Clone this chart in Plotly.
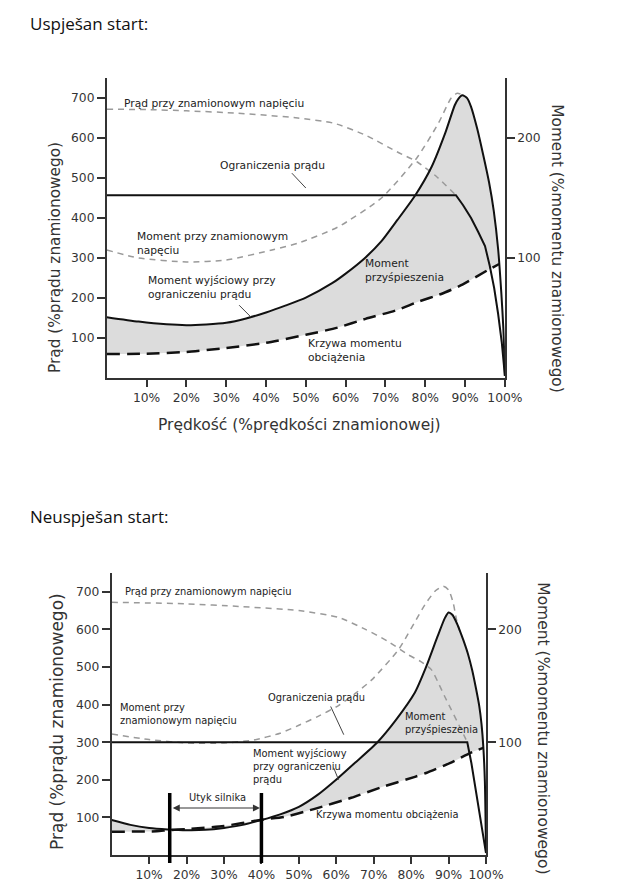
import plotly.graph_objects as go

# page body has an 8px margin; the photographed page is also squeezed horizontally (~640/656)
OFF = 8
CX = 640 / 656
FW, FH = 640 - 2 * OFF, 890 - 2 * OFF

# ---------------- DATA: successful start (top) ----------------
x_ticks = [10, 20, 30, 40, 50, 60, 70, 80, 90, 100]
x_tick_labels = ["10%", "20%", "30%", "40%", "50%", "60%", "70%", "80%", "90%", "100%"]
cur_ticks = [100, 200, 300, 400, 500, 600, 700]
tq_ticks = [100, 200]
CUR_MAX, TQ_MAX = 750, 250          # axis ranges (current %, torque %)

# current at rated voltage (% rated current)
a_cur_rated_x = [0, 10, 20, 33, 48, 57, 65, 73, 78, 83, 87.7]
a_cur_rated_y = [672, 671, 668, 662, 650, 637, 607, 565, 540, 502, 457]
# current limit (% rated current)
a_cur_lim_x = [0, 87.7, 89.5, 91.5, 93.3, 95, 96.2, 97.3, 98.3, 99.2, 100]
a_cur_lim_y = [457, 457, 432, 400, 365, 330, 280, 225, 160, 90, 5]
# torque at rated voltage (% rated torque)
a_tq_rated_x = [0, 8, 20, 30, 41.5, 48, 58, 69, 78, 83.3, 86.5, 88, 89.5]
a_tq_rated_y = [106.7, 100, 96.7, 98.3, 106.7, 112.3, 125.7, 150, 184, 212.3, 233.3, 237.3, 235.7]
# output torque at current limit (% rated torque)
a_tq_out_x = [0, 8, 15, 20, 25, 30, 35, 40, 45, 50, 56.6, 60, 65, 69, 73, 77.5, 81.6, 85, 87.4, 88.3,
              89.3, 90.5, 91.5, 93, 94.5, 96, 97.2, 98.3, 99.1, 99.6, 100]
a_tq_out_y = [50.7, 47, 44.7, 44, 44.6, 46, 49.6, 54.6, 60.5, 67, 79, 87, 100.5, 114, 131.7, 152.3,
              176, 204, 227.3, 232.7, 235.7, 233.3, 226, 208.3, 186.7, 163.3, 139.3, 107.3, 70.7, 41.7, 1.7]
# load torque (% rated torque)
a_load_x = [0, 10, 20, 30, 40, 50, 58, 65, 73, 78, 84, 89, 95.75, 98.55]
a_load_y = [20, 20.3, 21.7, 25, 29.3, 36, 42, 49.3, 56.7, 63.3, 70, 77.3, 90, 95]

# ---------------- DATA: unsuccessful start (bottom) ----------------
b_cur_rated_x = [0, 20, 34, 50, 60.6, 67.8, 73.5, 79.3, 82.5, 85.4, 87.2, 89, 93.4, 95]
b_cur_rated_y = [672, 668, 661, 650, 632, 600, 570, 532, 515, 493, 459, 421, 333, 300]
b_cur_lim_x = [0, 95, 96.1, 97.9, 99.65, 100]
b_cur_lim_y = [300, 300, 244, 138, 31, 5]
b_tq_rated_x = [0, 10, 20, 30, 38, 45, 50, 55, 60.6, 65, 69.4, 76.6, 83.7, 86.5, 88.6, 90, 91.2, 92.1, 93]
b_tq_rated_y = [107.3, 102.3, 99.3, 99.3, 102, 108, 115, 122.7, 132.5, 143, 155, 182, 222, 234.3,
                238.3, 235, 224, 209, 198.3]
b_tq_out_x = [0, 5, 10, 15, 20, 25, 30, 35, 40, 45, 50, 55, 60.5, 65, 71, 76, 81, 84, 87, 89, 90, 91,
              92, 93, 94, 95.2, 96.3, 97.3, 98.2, 98.8, 99.3, 99.7, 100]
b_tq_out_y = [31, 26.7, 24, 22.7, 22, 22.3, 24, 26.7, 31, 36, 42.7, 53.3, 68.3, 81.7, 100, 120, 144,
              166.7, 193.3, 210, 215, 213, 207, 199, 190, 178, 164, 148, 132, 116, 95, 65, 3]
b_load_x = [0, 12, 15, 20, 30, 40, 46, 54, 64, 72, 81, 84, 90.5, 96, 99.25]
b_load_y = [20.7, 21, 22, 23, 25.7, 31.3, 33.7, 40.7, 50.7, 60, 69.3, 72.7, 81.7, 90.7, 95]
stall_speeds = [15.5, 40.0]

# ---------------- STYLE ----------------
FONT = "DejaVu Sans"
GRAY_DASH = dict(color="#9a9a9a", width=1.5, dash="6px,5px")
BLACK = dict(color="#111111", width=2)
LOAD = dict(color="#111111", width=2.5, dash="13px,7px")
FILL = "#dcdcdc"
K = CUR_MAX / TQ_MAX   # torque % -> position on the current axis (both axes share the plot height)


def px_x(px):
    return (px / CX - OFF) / FW


def px_y(py):
    return 1 - (py - OFF) / FH


fig = go.Figure()


def add_panel(xa, ya, ya_tq, cr_x, cr_y, cl_x, cl_y, tr_x, tr_y, to_x, to_y, ld_x, ld_y):
    tr_s = [v * K for v in tr_y]
    to_s = [v * K for v in to_y]
    ld_s = [v * K for v in ld_y]
    end_x = ld_x[-1]
    fx = [x for x in to_x if x < end_x] + [end_x]
    fy = [y for x, y in zip(to_x, to_s) if x < end_x] + [ld_s[-1]]
    spl = dict(shape="spline", smoothing=0.6)
    # fill between load torque and output torque (acceleration torque)
    fig.add_trace(go.Scatter(x=ld_x, y=ld_s, xaxis=xa, yaxis=ya, mode="lines",
                             line=dict(width=0, **spl), hoverinfo="skip"))
    fig.add_trace(go.Scatter(x=fx, y=fy, xaxis=xa, yaxis=ya, mode="lines", fill="tonexty",
                             fillcolor=FILL, line=dict(width=0, **spl), hoverinfo="skip"))
    # gray dashed: current & torque at rated voltage
    fig.add_trace(go.Scatter(x=cr_x, y=cr_y, xaxis=xa, yaxis=ya, mode="lines",
                             line=dict(**GRAY_DASH, **spl)))
    fig.add_trace(go.Scatter(x=tr_x, y=tr_s, xaxis=xa, yaxis=ya, mode="lines",
                             line=dict(**GRAY_DASH, **spl)))
    # load torque
    fig.add_trace(go.Scatter(x=ld_x, y=ld_s, xaxis=xa, yaxis=ya, mode="lines",
                             line=dict(**LOAD, **spl)))
    # current limit
    fig.add_trace(go.Scatter(x=cl_x, y=cl_y, xaxis=xa, yaxis=ya, mode="lines",
                             line=dict(**BLACK, shape="linear")))
    # output torque at current limit
    fig.add_trace(go.Scatter(x=to_x, y=to_s, xaxis=xa, yaxis=ya, mode="lines",
                             line=dict(**BLACK, **spl)))
    # invisible trace on the torque axis so the right-hand axis is rendered
    fig.add_trace(go.Scatter(x=to_x, y=to_y, xaxis=xa, yaxis=ya_tq, mode="lines",
                             line=dict(width=0), opacity=0, hoverinfo="skip"))


add_panel("x", "y", "y2", a_cur_rated_x, a_cur_rated_y, a_cur_lim_x, a_cur_lim_y,
          a_tq_rated_x, a_tq_rated_y, a_tq_out_x, a_tq_out_y, a_load_x, a_load_y)
add_panel("x2", "y3", "y4", b_cur_rated_x, b_cur_rated_y, b_cur_lim_x, b_cur_lim_y,
          b_tq_rated_x, b_tq_rated_y, b_tq_out_x, b_tq_out_y, b_load_x, b_load_y)

axis_common = dict(showline=True, linecolor="#333", linewidth=1.6, ticks="outside", tickwidth=1.5,
                   tickcolor="#333", showgrid=False, zeroline=False,
                   tickfont=dict(family=FONT, size=12.3, color="#333"), fixedrange=True)

fig.update_layout(
    width=FW, height=FH, margin=dict(l=0, r=0, t=0, b=0),
    paper_bgcolor="white", plot_bgcolor="white", showlegend=False,
    xaxis=dict(domain=[px_x(107), px_x(507)], anchor="y", range=[0, 100], tickvals=x_ticks,
               ticktext=x_tick_labels, ticklen=7, **axis_common),
    yaxis=dict(domain=[px_y(378), px_y(78)], anchor="x", range=[0, CUR_MAX], tickvals=cur_ticks,
               ticklen=8, **axis_common),
    yaxis2=dict(overlaying="y", side="right", anchor="x", range=[0, TQ_MAX], tickvals=tq_ticks,
                ticklen=8, **axis_common),
    xaxis2=dict(domain=[px_x(112), px_x(488)], anchor="y3", range=[0, 100], tickvals=x_ticks,
                ticktext=x_tick_labels, ticklen=7, **axis_common),
    yaxis3=dict(domain=[px_y(855), px_y(573)], anchor="x2", range=[0, CUR_MAX], tickvals=cur_ticks,
                ticklen=8, **axis_common),
    yaxis4=dict(overlaying="y3", side="right", anchor="x2", range=[0, TQ_MAX], tickvals=tq_ticks,
                ticklen=8, **axis_common),
)

ann = []


def px_ann(text, x, y, size, angle=0, family=FONT, color="#333", xanchor="center"):
    ann.append(dict(text=text, x=px_x(x), y=px_y(y), xref="paper", yref="paper", showarrow=False,
                    textangle=angle, xanchor=xanchor, yanchor="middle",
                    font=dict(family=family, size=size, color=color)))


# section titles
px_ann("Uspješan start:", 28, 23, 17, family="Open Sans", color="#111", xanchor="left")
px_ann("Neuspješan start:", 28, 516, 17, family="Open Sans", color="#111", xanchor="left")
# axis titles
px_ann("Prąd (%prądu znamionowego)", 55, 257, 15.3, angle=-90)
px_ann("Moment (%momentu znamionowego)", 559, 248, 15.3, angle=90)
px_ann("Prędkość (%prędkości znamionowej)", 301, 425, 15.5)
px_ann("Prąd (%prądu znamionowego)", 57, 721, 17, angle=-90)
px_ann("Moment (%momentu znamionowego)", 545, 728, 15.5, angle=90)


def data_ann(text, x, y, xr, yr, size, xanchor="left"):
    ann.append(dict(text=text, x=x, y=y, xref=xr, yref=yr, showarrow=False, xanchor=xanchor,
                    yanchor="middle", align="left", font=dict(family=FONT, size=size, color="#222")))


TA, BA = 10.7, 9.9
# top panel labels (x: % speed, y: % current)
data_ann("Prąd przy znamionowym napięciu", 3.75, 687, "x", "y", TA)
data_ann("Ograniczenia prądu", 41.75, 532, "x", "y", TA, xanchor="center")
data_ann("Moment przy znamionowym<br>napęciu", 7, 337, "x", "y", TA)
data_ann("Moment wyjściowy przy<br>ograniczeniu prądu", 9.75, 227, "x", "y", TA)
data_ann("Moment<br>przyśpieszenia", 64.25, 270, "x", "y", TA)
data_ann("Krzywa momentu<br>obciążenia", 50, 70, "x", "y", TA)

# bottom panel labels
data_ann("Prąd przy znamionowym napięciu", 2.9, 701, "x2", "y3", BA)
data_ann("Moment przy<br>znamionowym napięciu", 1.6, 376, "x2", "y3", BA)
data_ann("Ograniczenia prądu", 54.8, 419, "x2", "y3", BA, xanchor="center")
data_ann("Moment wyjściowy<br>przy ograniczeniu<br>prądu", 37.2, 235, "x2", "y3", BA)
data_ann("Moment<br>przyśpieszenia", 77.9, 352, "x2", "y3", BA)
data_ann("Krzywa momentu obciążenia", 54, 107, "x2", "y3", BA)
data_ann("Utyk silnika", 28.2, 152, "x2", "y3", BA, xanchor="center")

# stall arrow
ann.append(dict(x=stall_speeds[1] - 0.4, y=125, ax=stall_speeds[0] + 0.4, ay=125, xref="x2", yref="y3",
                axref="x2", ayref="y3", text="", showarrow=True, arrowhead=2, startarrowhead=2,
                arrowside="end+start", arrowsize=1.4, startarrowsize=1.4, arrowwidth=1,
                arrowcolor="#333"))

shapes = []
# leader lines
for (x0, y0, x1, y1, xr, yr) in [(46.5, 512, 50, 475, "x", "y"), (33.25, 182, 36.25, 152, "x", "y"),
                                 (58.5, 395, 62, 320, "x2", "y3"), (59.3, 232, 60.6, 200, "x2", "y3")]:
    shapes.append(dict(type="line", x0=x0, y0=y0, x1=x1, y1=y1, xref=xr, yref=yr,
                       line=dict(color="#444", width=1)))
# stall region bars
for s in stall_speeds:
    shapes.append(dict(type="line", x0=s, x1=s, y0=px_y(863), y1=px_y(793), xref="x2", yref="paper",
                       line=dict(color="#000", width=3.5)))

fig.update_layout(annotations=ann, shapes=shapes)
fig.write_html("out.html")
